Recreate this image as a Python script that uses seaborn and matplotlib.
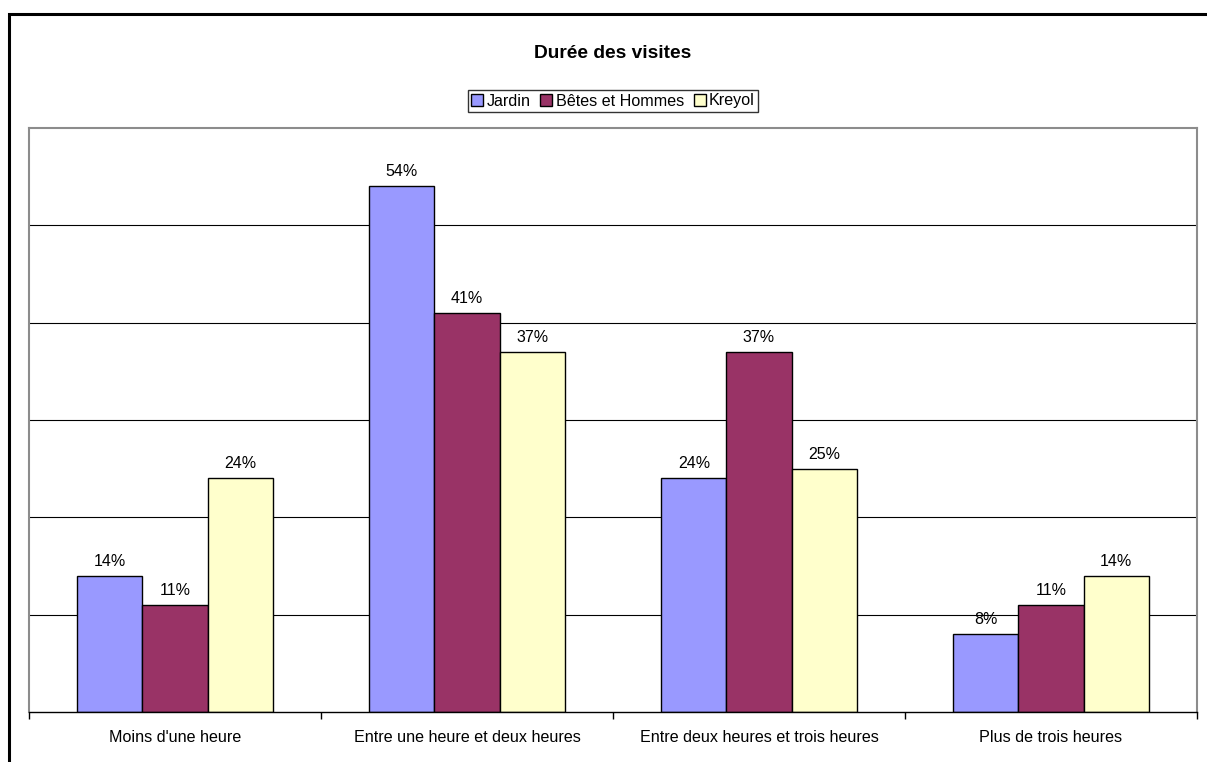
import numpy as np
import pandas as pd
import matplotlib
import matplotlib.pyplot as plt
import seaborn as sns
from matplotlib.patches import Rectangle, Patch

durees = ["Moins d'une heure", "Entre une heure et deux heures",
          "Entre deux heures et trois heures", "Plus de trois heures"]
lieux = ["Jardin", "Bêtes et Hommes", "Kreyol"]
jardin = [14, 54, 24, 8]
betes = [11, 41, 37, 11]
kreyol = [24, 37, 25, 14]
couleurs = ["#9999FF", "#993366", "#FFFFCC"]

df = pd.DataFrame({
    "duree": durees * 3,
    "lieu": [lieux[0]] * 4 + [lieux[1]] * 4 + [lieux[2]] * 4,
    "valeur": jardin + betes + kreyol,
})

sns.set_theme(style="white")
plt.rcParams['font.family'] = ['Liberation Sans', 'DejaVu Sans']
plt.rcParams['text.color'] = 'black'
plt.rcParams['xtick.color'] = 'black'
plt.rcParams['xtick.labelcolor'] = 'black'

W, H = 1207, 762
fig = plt.figure(figsize=(W / 100, H / 100), dpi=100)
ax = fig.add_axes([29 / W, (H - 712) / H, (1197 - 29) / W, (712 - 128) / H])

sns.barplot(data=df, x="duree", y="valeur", hue="lieu", order=durees,
            hue_order=lieux, palette=couleurs, width=0.668, gap=0,
            edgecolor="black", linewidth=1, saturation=1, ax=ax, legend=False)

for c in ax.containers:
    ax.bar_label(c, fmt="%d%%", padding=5, fontsize=11.5, color="black")

ax.set_ylim(0, 60)
ax.set_xlim(-0.5, 3.5)
ax.set_yticks([10, 20, 30, 40, 50])
ax.set_yticklabels([])
ax.tick_params(axis="y", length=0)
ax.yaxis.grid(True, color="black", linewidth=0.8)
ax.set_axisbelow(True)
ax.set_xlabel("")
ax.set_ylabel("")

ax.set_xticks(range(4))
ax.set_xticklabels(durees, fontsize=11.6, color="black")
ax.set_xticks(np.arange(-0.5, 4, 1), minor=True)
ax.tick_params(axis="x", which="major", length=0, pad=13)
ax.tick_params(axis="x", which="minor", length=5, width=1, color="black",
               direction="out", bottom=True)

for s in ["left", "top", "right"]:
    ax.spines[s].set_color("#8c8c8c")
    ax.spines[s].set_linewidth(1.5)
ax.spines["bottom"].set_color("black")
ax.spines["bottom"].set_linewidth(1)

fig.text(613 / W, 1 - 53 / H, "Durée des visites", ha="center", va="center",
         fontsize=13.8, fontweight="bold", color="black")

handles = [Patch(facecolor=c, edgecolor="black", linewidth=1) for c in couleurs]
leg = fig.legend(handles, lieux, loc="center", bbox_to_anchor=(613 / W, 1 - 101 / H),
                 ncol=3, frameon=True, fancybox=False, fontsize=11.6,
                 handlelength=0.75, handleheight=0.75, handletextpad=0.2,
                 columnspacing=0.6, borderpad=0.2, borderaxespad=0)
leg.get_frame().set_edgecolor("black")
leg.get_frame().set_linewidth(1)

# cadre extérieur
fig.patches.append(Rectangle((9 / W, -0.1), 1.2, 1.1 - 14 / H, transform=fig.transFigure,
                             fill=False, edgecolor="black", linewidth=2.2))

fig.savefig("out.png", dpi=100)
